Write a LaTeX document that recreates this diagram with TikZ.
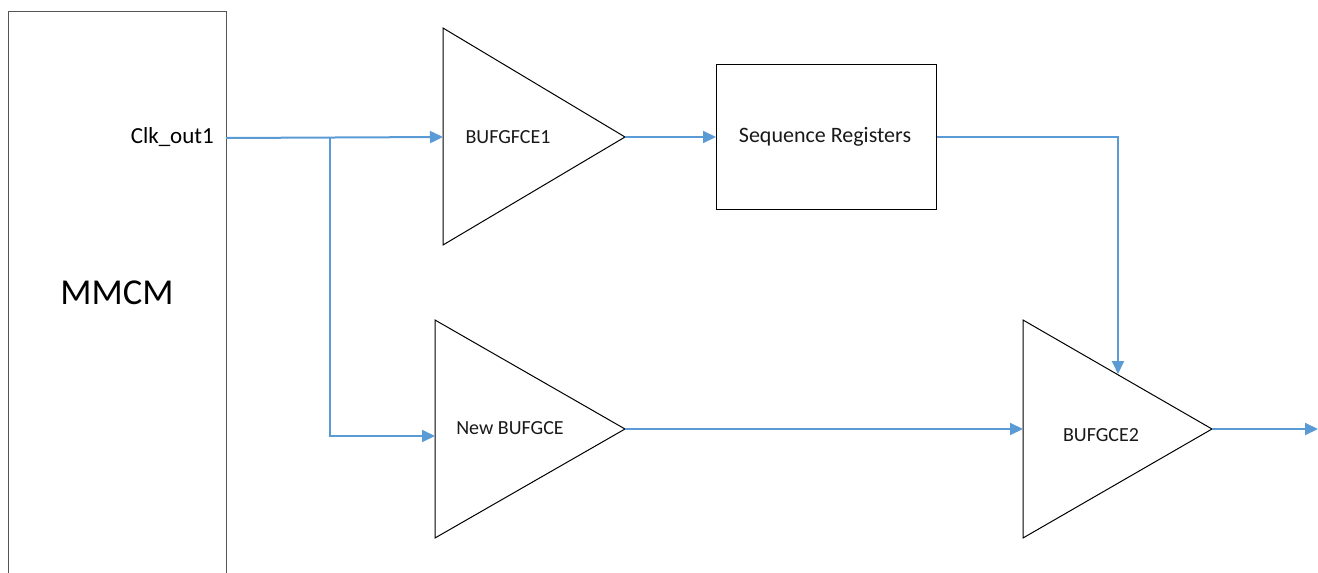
\documentclass[tikz,border=0pt]{standalone}
\usepackage{fontspec}
\setmainfont{Carlito}
\usetikzlibrary{arrows.meta}
\definecolor{wireblue}{HTML}{5B9BD5}
\definecolor{mmcmgray}{HTML}{555555}
\begin{document}
\begin{tikzpicture}[x=1pt,y=-1pt,
  blk/.style={draw=black,line width=1pt,fill=white},
  wire/.style={draw=wireblue,line width=2pt},
  arr/.style={wire,-{Triangle[length=13pt,width=12pt]}},
  lbl/.style={font=\fontsize{20}{24}\selectfont,inner sep=0pt,text=black!90}]
\useasboundingbox (0,0) rectangle (1318,573);
% MMCM block
\node[draw=mmcmgray,line width=1.4pt,minimum width=218pt,minimum height=590pt,anchor=north west,inner sep=0pt] (mmcm) at (8,11) {};
\node[font=\fontsize{36.5}{40}\selectfont,inner sep=0pt] (mmcmlbl) at (117,293) {MMCM};
\node[font=\fontsize{23}{26}\selectfont,inner sep=0pt,anchor=east] (clk) at (214,137) {Clk\_out1};
\coordinate (clkout) at (226,138);
% BUFGFCE1
\draw[blk] (443,28) -- (625,137) -- (443,245) -- cycle;
\coordinate (b1in) at (443,137);
\coordinate (b1out) at (625,137);
\node[lbl] (b1) at (508,137) {BUFGFCE1};
% Sequence Registers
\node[blk,minimum width=220pt,minimum height=145pt,anchor=north west,inner sep=0pt] (seq) at (716,64) {};
\node[lbl,font=\fontsize{22}{26}\selectfont] (seqlbl) at (825,137) {Sequence Registers};
% New BUFGCE
\draw[blk] (435,320) -- (625,429) -- (435,538) -- cycle;
\coordinate (b2in) at (435,436);
\coordinate (b2out) at (625,429);
\node[lbl] (b2) at (510,428) {New BUFGCE};
% BUFGCE2
\draw[blk] (1023,320) -- (1212,429) -- (1023,538) -- cycle;
\coordinate (b3in) at (1023,429);
\coordinate (b3top) at (1118,374);
\coordinate (b3out) at (1212,429);
\node[lbl] (b3) at (1101,435) {BUFGCE2};
\coordinate (outend) at (1318,429);
% junction
\coordinate (jn) at (330,137.5);
% wires
\draw[arr] (clkout) -- (b1in);
\draw[arr] (jn) |- (b2in);
\draw[arr] (b1out) -- (seq.west);
\draw[arr] (seq.east) -| (b3top);
\draw[arr] (b2out) -- (b3in);
\draw[arr] (b3out) -- (outend);
\end{tikzpicture}
\end{document}
